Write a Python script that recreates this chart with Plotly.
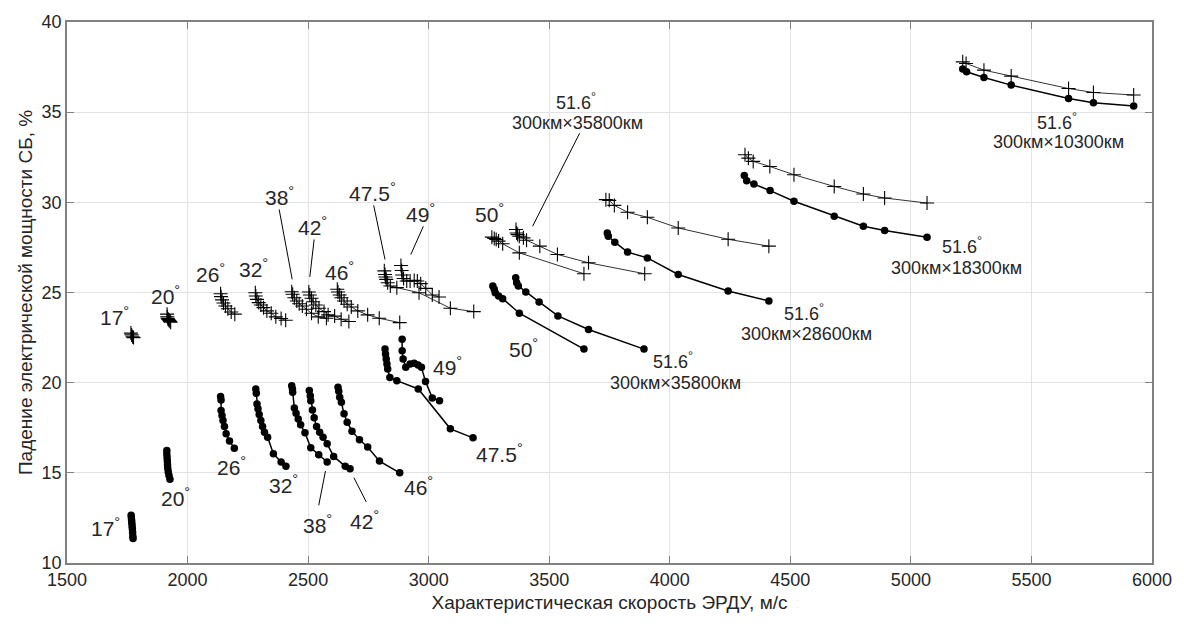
import plotly.graph_objects as go

# ---------------- data: "+" series (upper family) ----------------
plus_17_x = [1765, 1768, 1772, 1776]
plus_17_y = [22.75, 22.65, 22.55, 22.5]
plus_20_x = [1915, 1916, 1918, 1921, 1924, 1927, 1930]
plus_20_y = [23.8, 23.65, 23.55, 23.5, 23.45, 23.4, 23.35]
plus_26_x = [2137, 2139, 2143, 2149, 2157, 2167, 2181, 2196]
plus_26_y = [24.93, 24.77, 24.59, 24.42, 24.25, 24.1, 23.92, 23.8]
plus_32_x = [2281, 2283, 2288, 2295, 2304, 2315, 2329, 2347, 2366, 2388, 2407]
plus_32_y = [24.99, 24.81, 24.62, 24.44, 24.31, 24.16, 23.98, 23.85, 23.65, 23.56, 23.46]
plus_38_x = [2432, 2436, 2443, 2453, 2463, 2476, 2493, 2514, 2542, 2576]
plus_38_y = [25.04, 24.9, 24.71, 24.53, 24.38, 24.25, 24.07, 23.85, 23.65, 23.57]
plus_42_x = [2503, 2507, 2514, 2521, 2532, 2545, 2566, 2583, 2610, 2637, 2669]
plus_42_y = [25.03, 24.86, 24.68, 24.49, 24.31, 24.13, 23.94, 23.76, 23.69, 23.52, 23.39]
plus_46_x = [2621, 2624, 2631, 2638, 2649, 2662, 2679, 2706, 2747, 2795, 2880]
plus_46_y = [25.18, 25.03, 24.86, 24.71, 24.53, 24.35, 24.2, 23.98, 23.76, 23.57, 23.33]
plus_475_x = [2816, 2819, 2821, 2824, 2830, 2841, 2868, 2960, 3090, 3187]
plus_475_y = [26.2, 26.0, 25.86, 25.73, 25.54, 25.36, 25.27, 24.99, 24.13, 23.94]
plus_49_x = [2885, 2888, 2890, 2896, 2909, 2923, 2940, 2953, 2967, 2988, 3015, 3043]
plus_49_y = [26.5, 26.22, 25.97, 25.78, 25.64, 25.64, 25.67, 25.64, 25.49, 25.23, 24.86, 24.75]
plus_50_x = [3262, 3272, 3280, 3290, 3307, 3376, 3644]
plus_50_y = [28.07, 28.0, 27.94, 27.85, 27.7, 27.2, 26.04]
plus_35800_x = [3362, 3365, 3369, 3376, 3393, 3406, 3461, 3534, 3663, 3896]
plus_35800_y = [28.49, 28.3, 28.21, 28.12, 28.03, 27.9, 27.57, 27.11, 26.65, 26.04]
plus_28600_x = [3735, 3749, 3770, 3825, 3907, 4035, 4242, 4411]
plus_28600_y = [30.15, 30.11, 29.83, 29.45, 29.17, 28.58, 27.95, 27.57]
plus_18300_x = [4312, 4326, 4346, 4415, 4515, 4682, 4803, 4891, 5067]
plus_18300_y = [32.64, 32.45, 32.27, 31.99, 31.53, 30.88, 30.46, 30.24, 29.96]
plus_10300_x = [5215, 5229, 5303, 5416, 5654, 5757, 5924]
plus_10300_y = [37.79, 37.7, 37.33, 37.0, 36.31, 36.09, 35.95]

# ---------------- data: "•" series (lower family) ----------------
dot_17_x = [1766, 1767, 1768, 1769, 1770, 1771, 1772, 1773, 1774]
dot_17_y = [12.65, 12.5, 12.35, 12.2, 12.05, 11.9, 11.7, 11.5, 11.36]
dot_20_x = [1914, 1914, 1915, 1916, 1917, 1918, 1920, 1923, 1927]
dot_20_y = [16.24, 16.05, 15.85, 15.65, 15.45, 15.25, 15.05, 14.85, 14.64]
dot_26_x = [2137, 2139, 2139, 2143, 2147, 2153, 2160, 2174, 2194]
dot_26_y = [19.23, 19.04, 18.45, 18.18, 17.9, 17.57, 17.17, 16.76, 16.37]
dot_32_x = [2283, 2285, 2288, 2292, 2297, 2304, 2311, 2319, 2332, 2356, 2388, 2408]
dot_32_y = [19.65, 19.41, 18.82, 18.55, 18.23, 17.9, 17.57, 17.25, 16.98, 16.06, 15.6, 15.36]
dot_38_x = [2432, 2435, 2436, 2443, 2450, 2459, 2469, 2487, 2511, 2544, 2579]
dot_38_y = [19.83, 19.65, 19.47, 18.6, 18.3, 17.99, 17.66, 17.22, 16.39, 16.0, 15.6]
dot_42_x = [2505, 2509, 2511, 2518, 2525, 2535, 2548, 2562, 2579, 2606, 2654, 2674]
dot_42_y = [19.56, 19.28, 19.0, 18.49, 18.05, 17.57, 17.25, 16.98, 16.61, 15.91, 15.36, 15.23]
dot_46_x = [2624, 2627, 2631, 2638, 2649, 2662, 2682, 2713, 2747, 2796, 2880]
dot_46_y = [19.74, 19.52, 19.19, 18.91, 18.27, 17.81, 17.31, 16.83, 16.43, 15.65, 15.0]
dot_475_x = [2819, 2821, 2824, 2827, 2830, 2839, 2868, 2957, 3090, 3184]
dot_475_y = [21.86, 21.59, 21.31, 21.03, 20.76, 20.29, 20.11, 19.65, 17.44, 16.94]
dot_49_x = [2890, 2890, 2894, 2905, 2923, 2940, 2956, 2970, 2987, 3015, 3045]
dot_49_y = [22.41, 21.77, 21.31, 20.85, 21.03, 21.07, 20.98, 20.85, 20.07, 19.15, 19.0]
dot_50_x = [3266, 3272, 3276, 3290, 3307, 3376, 3644]
dot_50_y = [25.36, 25.18, 24.99, 24.81, 24.66, 23.85, 21.86]
dot_35800_x = [3361, 3365, 3372, 3403, 3458, 3536, 3663, 3893]
dot_35800_y = [25.82, 25.54, 25.36, 25.03, 24.48, 23.7, 22.95, 21.86]
dot_28600_x = [3741, 3745, 3772, 3825, 3907, 4035, 4242, 4411]
dot_28600_y = [28.3, 28.12, 27.79, 27.24, 26.92, 26.0, 25.08, 24.53]
dot_18300_x = [4309, 4319, 4349, 4416, 4515, 4682, 4803, 4891, 5067]
dot_18300_y = [31.49, 31.2, 31.01, 30.65, 30.06, 29.23, 28.67, 28.44, 28.07]
dot_10300_x = [5215, 5231, 5303, 5416, 5654, 5757, 5924]
dot_10300_y = [37.39, 37.24, 36.92, 36.5, 35.76, 35.52, 35.34]

# ---------------- labels ----------------
angle_text = ["17", "20", "26", "32", "38", "42", "46", "47.5", "49", "50",
              "17", "20", "26", "32", "38", "42", "46", "47.5", "49", "50"]
angle_x = [1698, 1910, 2096, 2274, 2380, 2517, 2631, 2768, 2967, 3252,
           1661, 1949, 2182, 2398, 2539, 2734, 2956, 3293, 3077, 3392]
angle_y = [23.7, 24.86, 26.1, 26.37, 30.33, 28.67, 26.22, 30.6, 29.41, 29.41,
           11.97, 13.66, 15.36, 14.4, 12.15, 12.38, 14.27, 16.1, 20.94, 21.9]

orbit_text = ["300км×35800км", "300км×10300км", "300км×18300км",
              "300км×28600км", "300км×35800км"]
orbit_incl_x = [3612, 5605, 5211, 4556, 4013]
orbit_incl_y = [35.6, 34.48, 27.6, 23.9, 21.25]
orbit_x = [3619, 5613, 5190, 4566, 4024]
orbit_y = [34.38, 33.33, 26.37, 22.69, 20.0]

# leader lines: (x0, y0, x1, y1)
leader_x0 = [2380, 2525, 2772, 2978, 3626, 2572, 2690]
leader_y0 = [29.6, 27.94, 29.83, 28.67, 33.83, 15.1, 14.73]
leader_x1 = [2434, 2507, 2819, 2926, 3431, 2544, 2741]
leader_y1 = [25.73, 25.86, 26.83, 27.11, 28.67, 13.2, 13.39]

plus_series = [(plus_17_x, plus_17_y), (plus_20_x, plus_20_y), (plus_26_x, plus_26_y),
               (plus_32_x, plus_32_y), (plus_38_x, plus_38_y), (plus_42_x, plus_42_y),
               (plus_46_x, plus_46_y), (plus_475_x, plus_475_y), (plus_49_x, plus_49_y),
               (plus_50_x, plus_50_y), (plus_35800_x, plus_35800_y),
               (plus_28600_x, plus_28600_y), (plus_18300_x, plus_18300_y),
               (plus_10300_x, plus_10300_y)]
dot_series = [(dot_17_x, dot_17_y), (dot_20_x, dot_20_y), (dot_26_x, dot_26_y),
              (dot_32_x, dot_32_y), (dot_38_x, dot_38_y), (dot_42_x, dot_42_y),
              (dot_46_x, dot_46_y), (dot_475_x, dot_475_y), (dot_49_x, dot_49_y),
              (dot_50_x, dot_50_y), (dot_35800_x, dot_35800_y),
              (dot_28600_x, dot_28600_y), (dot_18300_x, dot_18300_y),
              (dot_10300_x, dot_10300_y)]

FONT = "Liberation Sans, Arial, sans-serif"
TXT = "#262626"

fig = go.Figure()

for xs, ys in plus_series:
    fig.add_trace(go.Scatter(
        x=xs, y=ys, mode="lines+markers",
        line=dict(color="#333333", width=1),
        marker=dict(symbol="cross-thin", size=10,
                    line=dict(color="black", width=1.1)),
        showlegend=False, hoverinfo="skip"))

for xs, ys in dot_series:
    fig.add_trace(go.Scatter(
        x=xs, y=ys, mode="lines+markers",
        line=dict(color="black", width=1.5),
        marker=dict(symbol="circle", size=7.5, color="black", line=dict(width=0)),
        showlegend=False, hoverinfo="skip"))

for x0, y0, x1, y1 in zip(leader_x0, leader_y0, leader_x1, leader_y1):
    fig.add_trace(go.Scatter(
        x=[x0, x1], y=[y0, y1], mode="lines",
        line=dict(color="black", width=1),
        showlegend=False, hoverinfo="skip"))

annotations = []
for t, x, y in zip(angle_text, angle_x, angle_y):
    annotations.append(dict(
        x=x, y=y, xref="x", yref="y", showarrow=False,
        text=t + "<sup>°</sup>", xanchor="center", yanchor="middle",
        font=dict(family=FONT, size=21, color=TXT)))
for t, xi, yi, x, y in zip(orbit_text, orbit_incl_x, orbit_incl_y, orbit_x, orbit_y):
    annotations.append(dict(
        x=xi, y=yi, xref="x", yref="y", showarrow=False,
        text="51.6<sup>°</sup>", xanchor="center", yanchor="middle",
        font=dict(family=FONT, size=18, color=TXT)))
    annotations.append(dict(
        x=x, y=y, xref="x", yref="y", showarrow=False,
        text=t, xanchor="center", yanchor="middle",
        font=dict(family=FONT, size=18, color=TXT)))

axis_common = dict(
    showgrid=True, gridcolor="#e3e3e3", gridwidth=1,
    showline=True, linecolor="#808080", linewidth=1.5, mirror="ticks",
    ticks="inside", ticklen=7, tickcolor="#808080", tickwidth=1,
    zeroline=False,
    tickfont=dict(family=FONT, size=18, color=TXT),
)

fig.update_layout(
    width=1184, height=624,
    margin=dict(l=67, r=24, t=20, b=61),
    paper_bgcolor="white", plot_bgcolor="white",
    annotations=annotations,
    xaxis=dict(range=[1500, 6000], dtick=500, tick0=1500,
               title=dict(text="Характеристическая скорость ЭРДУ, м/с",
                          font=dict(family=FONT, size=19, color=TXT), standoff=6),
               **axis_common),
    yaxis=dict(range=[10, 40], dtick=5, tick0=10,
               title=dict(text="Падение электрической мощности СБ, %",
                          font=dict(family=FONT, size=19, color=TXT), standoff=4),
               **axis_common),
)

fig.write_html("out.html")
